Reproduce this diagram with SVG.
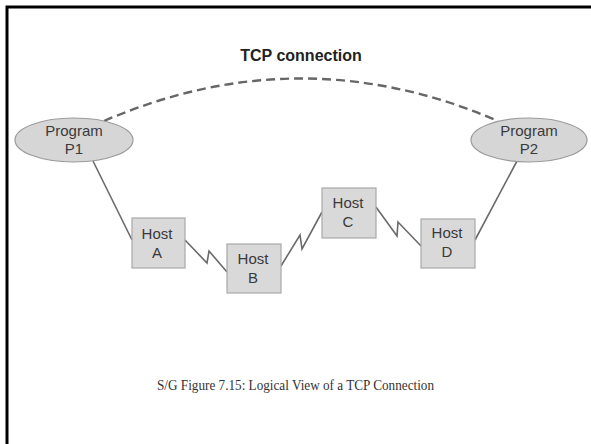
<svg xmlns="http://www.w3.org/2000/svg" width="591" height="444" viewBox="0 0 591 444">
<style>
.prog ellipse{fill:#d6d6d6;stroke:#9a9a9a;stroke-width:1.2}
.host rect{fill:#d9d9d9;stroke:#a8a8a8;stroke-width:1.2}
.lbl{font-family:"Liberation Sans",Arial,sans-serif;font-size:15px;fill:#3a3a3a;text-anchor:middle}
.link{fill:none;stroke:#6a6a6a;stroke-width:1.6}
.tcp{fill:none;stroke:#666;stroke-width:2.4;stroke-dasharray:9 5}
</style>
<rect x="0" y="0" width="591" height="444" fill="#fff"/>
<path d="M7,444 V7 H591" fill="none" stroke="#000" stroke-width="3"/>
<g id="connectors">
<path class="tcp" d="M104,121 Q301,36 498,121"/>
<path class="link" d="M93,161 L132,240"/>
<path class="link" d="M517,161 L475,240"/>
<path class="link" d="M185,240 L207,263 L209,251 L227,272"/>
<path class="link" d="M281,266 L300,235 L302,249 L322,212"/>
<path class="link" d="M376,207 L397,236 L398,222 L421,246"/>
</g>
<text x="301" y="61" style="font-family:'Liberation Sans',Arial,sans-serif;font-size:16px;font-weight:bold;fill:#222;text-anchor:middle">TCP connection</text>
<g id="p1" class="prog">
<ellipse cx="74" cy="140" rx="59" ry="22"/>
<text class="lbl" x="74" y="136">Program</text>
<text class="lbl" x="74" y="154">P1</text>
</g>
<g id="p2" class="prog">
<ellipse cx="529" cy="140" rx="58" ry="22"/>
<text class="lbl" x="529" y="136">Program</text>
<text class="lbl" x="529" y="154">P2</text>
</g>
<g id="hostA" class="host">
<rect x="132" y="218" width="53" height="50"/>
<text class="lbl" x="157" y="239">Host</text>
<text class="lbl" x="157" y="258">A</text>
</g>
<g id="hostB" class="host">
<rect x="227" y="244" width="54" height="49"/>
<text class="lbl" x="253" y="264">Host</text>
<text class="lbl" x="253" y="283">B</text>
</g>
<g id="hostC" class="host">
<rect x="322" y="188" width="54" height="50"/>
<text class="lbl" x="348" y="208">Host</text>
<text class="lbl" x="348" y="227">C</text>
</g>
<g id="hostD" class="host">
<rect x="421" y="219" width="54" height="49"/>
<text class="lbl" x="447" y="238">Host</text>
<text class="lbl" x="447" y="257">D</text>
</g>
<text x="157" y="390" textLength="277" lengthAdjust="spacingAndGlyphs" style="font-family:'Liberation Serif','Times New Roman',serif;font-size:15px;fill:#333">S/G Figure 7.15: Logical View of a TCP Connection</text>
</svg>
